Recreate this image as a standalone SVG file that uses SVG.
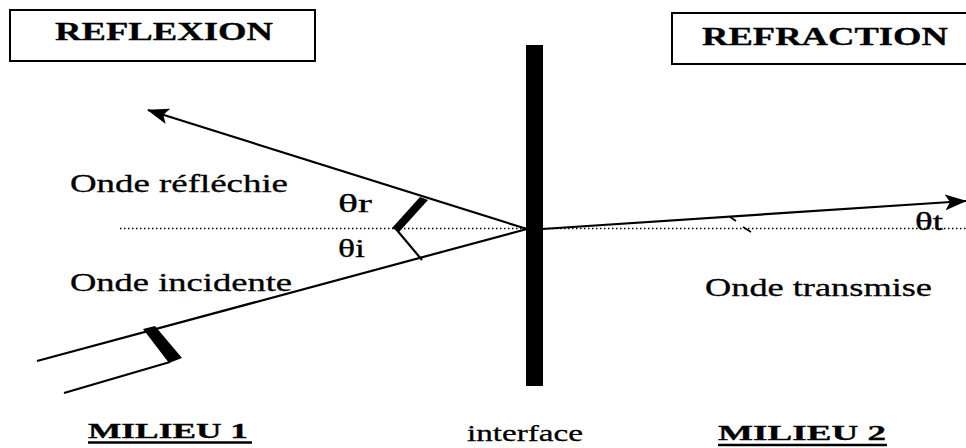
<svg xmlns="http://www.w3.org/2000/svg" width="966" height="448" viewBox="0 0 966 448">
<style>
.t{font-family:"Liberation Serif","Times New Roman",serif;fill:#000;stroke:#000;stroke-width:0.3;}
.b{font-weight:bold;}
.ray{stroke:#000;stroke-width:2.2;fill:none;}
.box{fill:#fff;stroke:#000;stroke-width:2;}
</style>
<defs>
<marker id="ah" viewBox="0 0 22 16" refX="21" refY="8" markerWidth="22" markerHeight="16" markerUnits="userSpaceOnUse" orient="auto">
<path d="M0,0 L22,8 L0,16 L5,8 Z" fill="#000"/>
</marker>
</defs>
<rect width="966" height="448" fill="#fff"/>

<g id="reflexion">
<rect class="box" x="10" y="10" width="305" height="51"/>
<text class="t b" x="55" y="40" font-size="25" textLength="218" lengthAdjust="spacingAndGlyphs">REFLEXION</text>
</g>
<g id="refraction">
<rect class="box" x="672" y="13" width="300" height="51"/>
<text class="t b" x="702" y="45" font-size="25" textLength="246" lengthAdjust="spacingAndGlyphs">REFRACTION</text>
</g>

<g id="interface">
<rect x="526" y="45" width="17" height="341" fill="#000"/>
<text class="t" x="467" y="441" font-size="24" textLength="116" lengthAdjust="spacingAndGlyphs">interface</text>
</g>

<g id="normal">
<line x1="120" y1="228.5" x2="966" y2="228.5" stroke="#000" stroke-width="1.5" stroke-dasharray="1.5 2.5"/>
</g>

<g id="connectors">
<line class="ray" x1="37" y1="361" x2="527" y2="229"/>
<line class="ray" x1="64" y1="393" x2="170" y2="362"/>
<polygon points="143,329 155,326 182,358 169,363" fill="#000"/>
<line class="ray" x1="527" y1="229" x2="148" y2="110" marker-end="url(#ah)"/>
<line class="ray" x1="542" y1="229" x2="966" y2="201" marker-end="url(#ah)"/>
<polygon points="420,197 428,200 399,232 392,228" fill="#000"/>
<line class="ray" x1="396" y1="229" x2="422" y2="260" stroke-width="1.8"/>
<line x1="730" y1="217" x2="736" y2="221" stroke="#000" stroke-width="1.6"/>
<line x1="743" y1="227" x2="751" y2="232" stroke="#000" stroke-width="1.6"/>
</g>

<g id="onde-reflechie">
<text class="t" x="70" y="192" font-size="26" textLength="218" lengthAdjust="spacingAndGlyphs">Onde réfléchie</text>
</g>
<g id="onde-incidente">
<text class="t" x="70" y="291" font-size="26" textLength="222" lengthAdjust="spacingAndGlyphs">Onde incidente</text>
</g>
<g id="onde-transmise">
<text class="t" x="705" y="296" font-size="26" textLength="227" lengthAdjust="spacingAndGlyphs">Onde transmise</text>
</g>
<g id="theta-r">
<text class="t" x="338" y="212" font-size="25" textLength="34" lengthAdjust="spacingAndGlyphs">θr</text>
</g>
<g id="theta-i">
<text class="t" x="338" y="257" font-size="25" textLength="27" lengthAdjust="spacingAndGlyphs">θi</text>
</g>
<g id="theta-t">
<text class="t" x="915" y="230" font-size="25" textLength="28" lengthAdjust="spacingAndGlyphs">θt</text>
</g>

<g id="milieu1">
<text class="t b" x="88" y="438" font-size="22" textLength="160" lengthAdjust="spacingAndGlyphs">MILIEU 1</text>
<line x1="88" y1="442.5" x2="252" y2="442.5" stroke="#000" stroke-width="2.5"/>
</g>
<g id="milieu2">
<text class="t b" x="718" y="440" font-size="22" textLength="168" lengthAdjust="spacingAndGlyphs">MILIEU 2</text>
<line x1="718" y1="445" x2="887" y2="445" stroke="#000" stroke-width="2.5"/>
</g>
</svg>
